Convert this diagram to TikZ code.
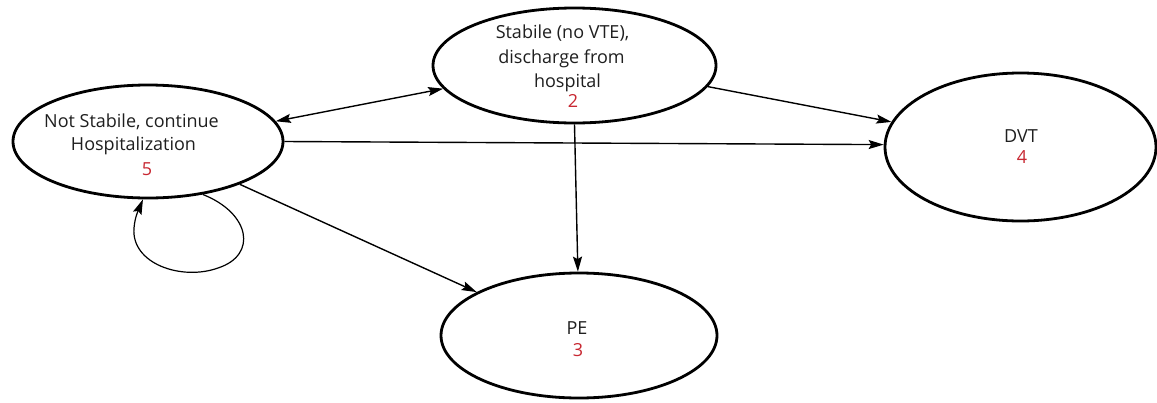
\documentclass[tikz,border=0pt]{standalone}
\usepackage{fontspec}
\setmainfont{Open Sans}
\usetikzlibrary{shapes.geometric,arrows.meta}
\definecolor{numred}{RGB}{200,40,50}
\begin{document}
\begin{tikzpicture}[x=1pt,y=-1pt,
  state/.style={draw,ellipse,line width=2.8pt,inner sep=0pt,fill=white},
  txt/.style={font=\fontsize{18}{21}\selectfont,anchor=base,inner sep=0pt,text=black!88},
  num/.style={txt,text=numred},
  tip/.style={Stealth[length=15pt,width=9pt,inset=2.5pt]},
  conn/.style={line width=1.4pt,-{Stealth[length=15pt,width=9pt,inset=2.5pt]}},
  biconn/.style={line width=1.4pt,{Stealth[length=15pt,width=9pt,inset=2.5pt]}-{Stealth[length=15pt,width=9pt,inset=2.5pt]}}
]
\useasboundingbox[fill=white] (0,0) rectangle (1157,402);

\node[state,minimum width=270pt,minimum height=113pt] (n5) at (148,141.5) {};
\node[state,minimum width=283pt,minimum height=115pt] (n2) at (574.5,65.5) {};
\node[state,minimum width=271pt,minimum height=148pt] (n4) at (1020.5,147) {};
\node[state,minimum width=276pt,minimum height=125pt] (n3) at (579,335.5) {};

% texts
\node[txt] (t5a) at (131.5,127) {Not Stabile, continue};
\node[txt] (t5b) at (133.5,150.5) {Hospitalization};
\node[num] (k5) at (147,175) {5};

\node[txt] (t2a) at (562.5,38) {Stabile (no VTE),};
\node[txt] (t2b) at (561.5,63) {discharge from};
\node[txt] (t2c) at (567.5,87) {hospital};
\node[num] (k2) at (573,107) {2};

\node[txt] (t4) at (1021,142) {DVT};
\node[num] (k4) at (1022,163) {4};

\node[txt] (t3) at (577,334) {PE};
\node[num] (k3) at (578,356) {3};

% connectors
\draw[biconn] (n5.9) -- (n2.190);
\draw[conn] (n2.-9.7) -- (n4.169);
\draw[conn] (n5.0) -- (n4.179);
\draw[conn] (n2.-90) -- (n3.91);
\draw[conn] (n5.-25) -- (n3.157.4);
\draw[conn,line width=1.2pt] (n5.-44) .. controls (250,213) and (258,255) .. (218,268)
  .. controls (182,281) and (131,264) .. (134,228)
  .. controls (135,216) and (139,209) .. (n5.-95);
\end{tikzpicture}
\end{document}
